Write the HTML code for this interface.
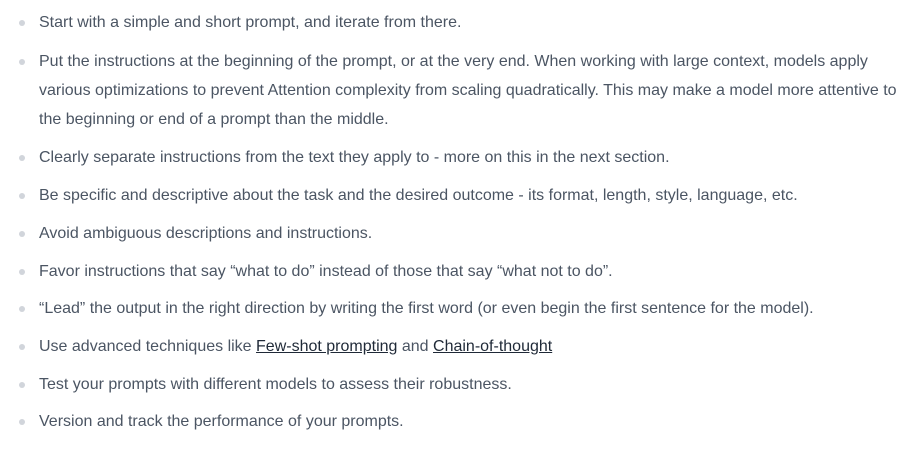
<!DOCTYPE html>
<html><head><meta charset="utf-8"><style>
html,body{margin:0;padding:0;background:#fff;width:924px;height:449px;overflow:hidden}
.i{position:absolute;left:39px;font-family:"Liberation Sans",sans-serif;font-size:16px;line-height:29px;color:#4b5563;white-space:nowrap}
.i::before{content:"";position:absolute;left:-20px;top:12px;width:6px;height:6px;border-radius:50%;background:#d1d5db}
a{color:#1f2937;text-decoration:underline}
</style></head><body>
<div class="i" style="top:8px">Start with a simple and short prompt, and iterate from there.</div>
<div class="i" style="top:47px">Put the instructions at the beginning of the prompt, or at the very end. When working with large context, models apply<br>various optimizations to prevent Attention complexity from scaling quadratically. This may make a model more attentive to<br>the beginning or end of a prompt than the middle.</div>
<div class="i" style="top:143px">Clearly separate instructions from the text they apply to - more on this in the next section.</div>
<div class="i" style="top:181px">Be specific and descriptive about the task and the desired outcome - its format, length, style, language, etc.</div>
<div class="i" style="top:219px">Avoid ambiguous descriptions and instructions.</div>
<div class="i" style="top:257px">Favor instructions that say “what to do” instead of those that say “what not to do”.</div>
<div class="i" style="top:294px">“Lead” the output in the right direction by writing the first word (or even begin the first sentence for the model).</div>
<div class="i" style="top:332px">Use advanced techniques like <a>Few-shot prompting</a> and <a>Chain-of-thought</a></div>
<div class="i" style="top:370px">Test your prompts with different models to assess their robustness.</div>
<div class="i" style="top:407px">Version and track the performance of your prompts.</div>
</body></html>
